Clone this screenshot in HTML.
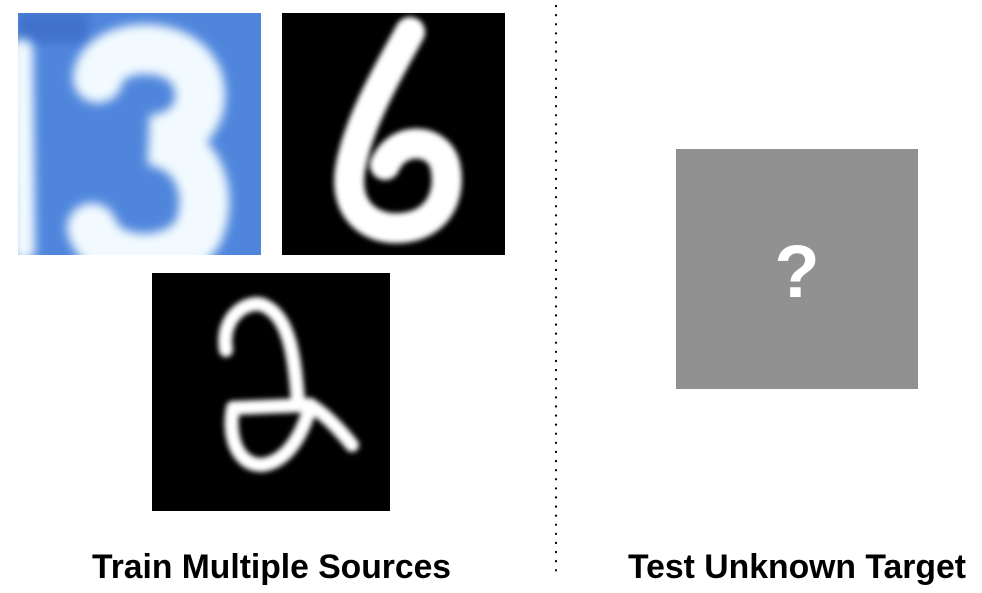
<!DOCTYPE html>
<html><head><meta charset="utf-8"><style>
html,body{margin:0;padding:0;background:#fff;width:982px;height:593px;overflow:hidden}
svg{display:block}
</style></head><body>
<svg width="982" height="593" viewBox="0 0 982 593">
<defs>
<filter id="b3" x="-20%" y="-20%" width="140%" height="140%"><feGaussianBlur stdDeviation="5"/></filter>
<filter id="b2" x="-20%" y="-20%" width="140%" height="140%"><feGaussianBlur stdDeviation="2.6"/></filter>
<clipPath id="c1"><rect x="18" y="13" width="243" height="242"/></clipPath>
<clipPath id="c2"><rect x="282" y="13" width="223" height="242"/></clipPath>
<clipPath id="c3"><rect x="152" y="273" width="238" height="238"/></clipPath>
</defs>
<g clip-path="url(#c1)">
<rect x="18" y="13" width="243" height="242" fill="#4f86dc"/>
<rect x="18" y="13" width="70" height="30" fill="#3f72cc" filter="url(#b3)"/>
<g filter="url(#b3)" fill="none" stroke="#f2faff" stroke-linecap="round">
<path d="M22,50 L24,250" stroke-width="22"/>
<path d="M98,78 C102,38 205,35 200,100 C197,128 172,138 152,140 C205,150 212,200 198,232 C178,268 105,268 92,228" stroke-width="50"/>
</g>
</g>
<g clip-path="url(#c2)">
<rect x="282" y="13" width="223" height="242" fill="#000"/>
<path filter="url(#b2)" fill="none" stroke="#fff" stroke-width="30" stroke-linecap="round" d="M410,32 C395,60 358,120 350,170 C344,212 372,230 400,228 C438,226 452,195 445,165 C438,138 398,135 385,165"/>
</g>
<g clip-path="url(#c3)">
<rect x="152" y="273" width="238" height="238" fill="#000"/>
<g filter="url(#b2)" fill="none" stroke="#fff" stroke-width="14" stroke-linecap="round">
<path d="M226,350 C220,315 250,298 265,306 C290,318 295,360 298,402"/>
<path d="M233,408 L310,405 C325,414 340,430 352,445"/>
<path d="M233,408 C228,432 235,465 262,465 C285,462 300,440 310,408"/>
</g>
</g>
<line x1="556" y1="6" x2="556" y2="572" stroke="#000" stroke-width="2.2" stroke-dasharray="0.1 9" stroke-linecap="round"/>
<rect x="676" y="149" width="242" height="240" fill="#919191"/>
<text x="797" y="297" text-anchor="middle" font-family="Liberation Sans, sans-serif" font-weight="bold" font-size="74" fill="#fff">?</text>
<text x="92" y="578" textLength="359" lengthAdjust="spacingAndGlyphs" font-family="Liberation Sans, sans-serif" font-weight="bold" font-size="34" fill="#000">Train Multiple Sources</text>
<text x="628" y="578" textLength="338" lengthAdjust="spacingAndGlyphs" font-family="Liberation Sans, sans-serif" font-weight="bold" font-size="34" fill="#000">Test Unknown Target</text>
</svg>
</body></html>
